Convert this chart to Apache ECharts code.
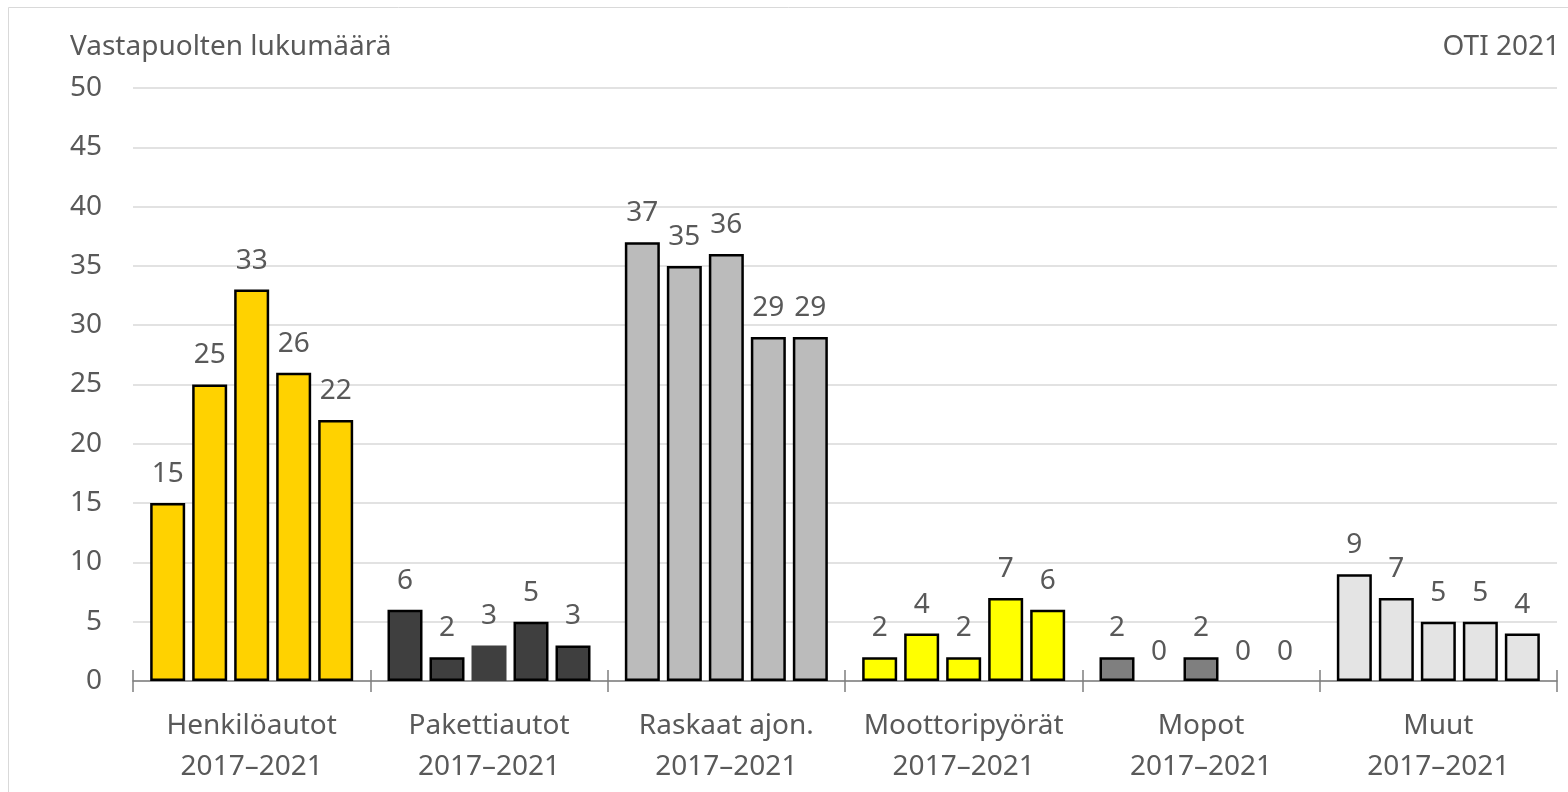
<!DOCTYPE html>
<html>
<head>
<meta charset="utf-8">
<script src="https://cdn.jsdelivr.net/npm/echarts@6/dist/echarts.min.js"></script>
<style>
  html, body { margin: 0; padding: 0; background: #ffffff; }
  #chart { width: 1568px; height: 792px; }
</style>
</head>
<body>
<div id="chart"></div>
<script>
// Vehicle groups on the category axis, each shown for the years 2017–2021
const categories = ['Henkilöautot', 'Pakettiautot', 'Raskaat ajon.', 'Moottoripyörät', 'Mopot', 'Muut'];
const period = '2017–2021';
const years = ['2017', '2018', '2019', '2020', '2021'];

// Number of counterparts per year (2017..2021) for each vehicle group
const henkiloautot = [15, 25, 33, 26, 22];
const pakettiautot = [6, 2, 3, 5, 3];
const raskaatAjon = [37, 35, 36, 29, 29];
const moottoripyorat = [2, 4, 2, 7, 6];
const mopot = [2, 0, 2, 0, 0];
const muut = [9, 7, 5, 5, 4];

const yAxisTitle = 'Vastapuolten lukumäärä';
const sourceNote = 'OTI 2021';
const yMin = 0, yMax = 50, yStep = 5;

const groups = [henkiloautot, pakettiautot, raskaatAjon, moottoripyorat, mopot, muut];
const groupColors = ['#FFD200', '#3F3F3F', '#BBBBBB', '#FFFF00', '#7F7F7F', '#E4E4E4'];
const textColor = '#595959';
const fontFamily = '"Noto Sans", "Open Sans", sans-serif';
const fontSize = 28;

// One series per year; each bar takes the colour of its vehicle group
const series = years.map((year, yi) => ({
  name: year,
  type: 'bar',
  xAxisIndex: 0,
  barWidth: 35,
  barGap: '20%',
  data: groups.map((vals, gi) => {
    const item = { value: vals[yi], itemStyle: { color: groupColors[gi] } };
    // zero bars have no outline, nor does the 2019 van bar
    if (vals[yi] === 0 || (gi === 1 && yi === 2)) item.itemStyle.borderWidth = 0;
    return item;
  }),
  itemStyle: { borderColor: '#000000', borderWidth: 2.5 },
  label: {
    show: true,
    position: 'top',
    distance: 15,
    fontSize: fontSize,
    fontFamily: fontFamily,
    color: textColor
  }
}));

const chart = echarts.init(document.getElementById('chart'), null, { renderer: 'canvas' });

chart.setOption({
  animation: false,
  backgroundColor: '#ffffff',
  graphic: [{
    type: 'rect',
    z: -10,
    shape: { x: 8.5, y: 7.5, width: 1620, height: 840 },
    style: { fill: 'none', stroke: '#D9D9D9', lineWidth: 1 }
  }],
  title: [
    {
      text: yAxisTitle, left: 65, top: 28,
      textStyle: { fontSize: fontSize, fontWeight: 'normal', color: textColor, fontFamily: fontFamily }
    },
    {
      text: sourceNote, right: 3, top: 28,
      textStyle: { fontSize: fontSize, fontWeight: 'normal', color: textColor, fontFamily: fontFamily }
    }
  ],
  grid: { left: 133, right: 11, top: 88, bottom: 111, containLabel: false },
  xAxis: [
    {
      type: 'category',
      data: categories,
      axisLine: { show: true, lineStyle: { color: '#7F7F7F', width: 1.5 } },
      axisTick: { show: true, length: 11, lineStyle: { color: '#7F7F7F', width: 1.5 } },
      axisLabel: {
        interval: 0,
        margin: 25,
        fontSize: fontSize,
        lineHeight: 41,
        fontFamily: fontFamily,
        color: textColor,
        formatter: name => name + '\n' + period
      }
    },
    {
      // upper half of the cross tick marks at group boundaries
      type: 'category',
      data: categories,
      position: 'bottom',
      axisLine: { show: false },
      axisTick: { show: true, inside: true, length: 11, lineStyle: { color: '#7F7F7F', width: 1.5 } },
      axisLabel: { show: false }
    }
  ],
  yAxis: {
    type: 'value',
    min: yMin,
    max: yMax,
    interval: yStep,
    axisLine: { show: false },
    axisTick: { show: false },
    splitLine: { lineStyle: { color: '#D9D9D9', width: 1.5 } },
    axisLabel: { fontSize: fontSize, margin: 31, fontFamily: fontFamily, color: textColor }
  },
  series: series
});
</script>
</body>
</html>
